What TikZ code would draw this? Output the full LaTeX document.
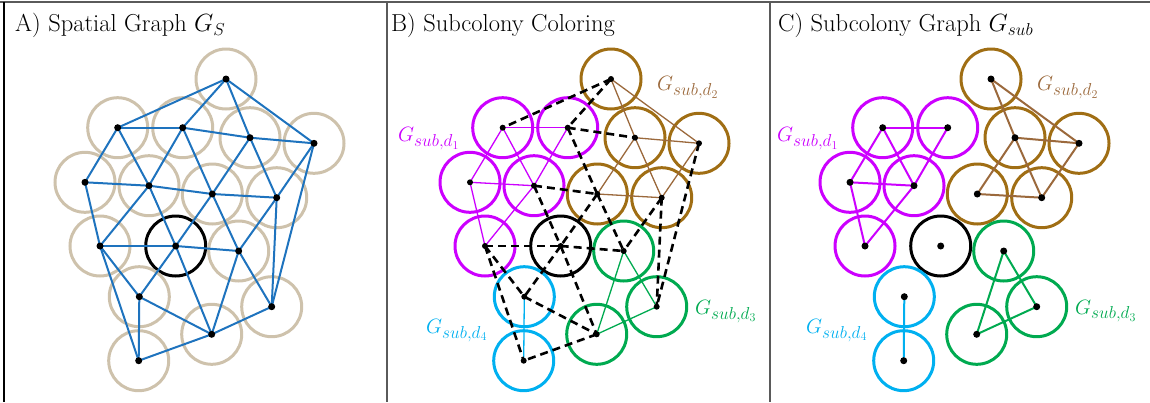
\documentclass[tikz,border=0pt]{standalone}
\usepackage{tikz}
\usetikzlibrary{positioning}
\usepackage{xcolor}
\usepackage{amsmath}
\DeclareMathSizes{22}{22}{16.5}{12}
\DeclareMathSizes{24.5}{24.5}{18}{13}
\definecolor{tanc}{RGB}{206,194,172}
\definecolor{edgeblue}{RGB}{30,115,190}
\definecolor{magc}{RGB}{204,0,255}
\definecolor{brownc}{RGB}{160,110,20}
\definecolor{brownl}{RGB}{155,105,60}
\definecolor{greenc}{RGB}{0,170,80}
\definecolor{cyanc}{RGB}{0,176,240}
\definecolor{framec}{RGB}{90,90,90}

\newcommand{\cells}{%
  1/226/79/tanc/brownc, 2/117.7/127.7/tanc/magc, 3/182.7/127.7/tanc/magc,
  4/250/137.7/tanc/brownc, 5/314/143.3/tanc/brownc, 6/85/182.3/tanc/magc,
  7/149/185.7/tanc/magc, 8/212.3/194/tanc/brownc, 9/276.7/197.7/tanc/brownc,
  10/100/246/tanc/magc, 11/175.7/246/black/black, 12/238.7/251/tanc/greenc,
  13/139.3/296.7/tanc/cyanc, 14/271.7/306.7/tanc/greenc, 15/211.7/334.3/tanc/greenc,
  16/138.7/360.7/tanc/cyanc}
\newcommand{\links}{%
  2/3/magc, 2/6/magc, 2/7/magc, 3/7/magc, 6/7/magc, 6/10/magc, 7/10/magc,
  1/4/brownl, 1/5/brownl, 4/5/brownl, 4/8/brownl, 4/9/brownl, 5/9/brownl, 8/9/brownl,
  12/14/greenc, 12/15/greenc, 14/15/greenc, 13/16/cyanc}
\newcommand{\cross}{%
  1/2, 1/3, 3/4, 3/8, 5/14, 7/8, 7/11, 8/11, 8/12, 9/12, 9/14,
  10/11, 10/13, 10/16, 11/12, 11/13, 11/15, 13/15, 15/16}

\begin{document}
\begin{tikzpicture}[x=1pt, y=-1pt,
  cell/.style={circle, draw=#1, line width=3pt, minimum size=60pt, inner sep=0pt},
  ed/.style={edgeblue, line width=2pt},
  thinl/.style={draw=#1, line width=1.3pt},
  thickl/.style={draw=#1, line width=2pt},
  dsh/.style={black, line width=2.6pt, dash pattern=on 8pt off 5pt},
  ttl/.style={anchor=base west, inner sep=0pt, font=\fontsize{24.5}{28}\selectfont},
  lbl/.style={anchor=base west, inner sep=0pt, text=#1, font=\fontsize{22}{26}\selectfont}
]
  \useasboundingbox (0,0) rectangle (1150,402);

  \draw[framec, line width=2.5pt] (0,2) -- (1150,2);
  \draw[black, line width=2pt] (4,2) -- (4,402);
  \draw[framec, line width=1.2pt] (387,2) -- (387,402);
  \draw[framec, line width=1.2pt] (770,2) -- (770,402);

  \node[ttl] (ta) at (15,31.5) {A) Spatial Graph $G_S$};
  \node[ttl] (tb) at (391,31.5) {B) Subcolony Coloring};
  \node[ttl] (tc) at (778,31.5) {C) Subcolony Graph $G_{sub}$};

  \foreach \n/\x/\y/\ca/\cb in \cells {
    \node[cell=\ca] (a\n) at (\x,\y) {};
    \node[cell=\cb] (b\n) at ({\x+385},\y) {};
    \node[cell=\cb] (c\n) at ({\x+765},\y) {};
  }

  \foreach \u/\v/\g in \links
    \draw[ed] (a\u.center) -- (a\v.center);
  \foreach \u/\v in \cross
    \draw[ed] (a\u.center) -- (a\v.center);

  \foreach \u/\v/\g in \links
    \draw[thinl=\g] (b\u.center) -- (b\v.center);
  \foreach \u/\v in \cross
    \draw[dsh] (b\u.center) -- (b\v.center);

  \foreach \u/\v/\g in \links
    \draw[thickl=\g] (c\u.center) -- (c\v.center);

  \foreach \n in {1,...,16} {
    \fill (a\n.center) circle[radius=3.5pt];
    \fill (b\n.center) circle[radius=3pt];
    \fill (c\n.center) circle[radius=3.5pt];
  }

  \node[lbl=magc]   (bd1) at (398,141.7) {$G_{sub,d_1}$};
  \node[lbl=brownl] (bd2) at (657,90.7)  {$G_{sub,d_2}$};
  \node[lbl=greenc] (bd3) at (695,314.3) {$G_{sub,d_3}$};
  \node[lbl=cyanc]  (bd4) at (426,333.3) {$G_{sub,d_4}$};

  \node[lbl=magc]   (cd1) at (777,141.7) {$G_{sub,d_1}$};
  \node[lbl=brownl] (cd2) at (1037,90.7) {$G_{sub,d_2}$};
  \node[lbl=greenc] (cd3) at (1075,314)  {$G_{sub,d_3}$};
  \node[lbl=cyanc]  (cd4) at (806,333.3) {$G_{sub,d_4}$};
\end{tikzpicture}
\end{document}
